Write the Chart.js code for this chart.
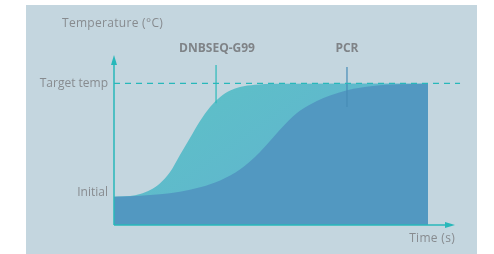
<!DOCTYPE html>
<html>
<head>
<meta charset="utf-8">
<script src="https://cdn.jsdelivr.net/npm/chart.js@4.4.0/dist/chart.umd.min.js"></script>
<style>
  html, body { margin: 0; padding: 0; background: #fff; }
  #wrap { width: 494px; height: 254px; position: relative; }
</style>
</head>
<body>
<div id="wrap"><canvas id="grafico"></canvas></div>
<script>
// time (arbitrary units) and temperature (20 = initial, 100 = target)
const tempoG99 = [0, 5.1, 8.3, 11.5, 14.6, 17.8, 21.0, 24.2, 27.4, 30.6, 33.8, 37.0, 40.1, 44.9, 51.3, 100];
const tempG99 = [20, 20.4, 21.9, 24.7, 29.3, 37.2, 49.4, 61.4, 73.4, 83.3, 90.4, 94.9, 97.4, 99.0, 99.7, 99.8];

const tempoPCR = [0, 5.1, 11.5, 17.8, 21.0, 27.4, 30.6, 33.8, 37.0, 40.1, 43.3, 46.5, 50.6, 55.1, 59.2, 64.6, 68.8, 74.2, 82.5, 91.1, 100];
const tempPCR = [20, 20.3, 21.1, 22.4, 23.4, 26.6, 28.8, 31.5, 34.9, 39.2, 44.8, 51.6, 61.6, 72.6, 80.6, 87.6, 91.4, 95.2, 98.2, 99.3, 99.7];

const tempInicial = 20;
const tempAlvo = 100;
const ticksY = [tempInicial, tempAlvo];
const nomesTicks = { 20: ['Initial', ''], 100: ['Target temp'] };

const marcadorG99 = { x: 32.5, de: 113, ate: 86 };
const marcadorPCR = { x: 74.2, de: 111.5, ate: 83.3 };

const tempoMax = 108.6;
const tempoLinhaAlvo = 110.2;

const pontos = (xs, ys) => xs.map((x, i) => ({ x, y: ys[i] }));

const TEAL = 'rgb(40,184,186)';
const CINZA = '#878b8f';
const FONTE = '"Open Sans"';

const fundo = {
    id: 'fundo',
    beforeDraw(chart) {
        const c = chart.ctx;
        c.save();
        c.fillStyle = '#fff';
        c.fillRect(0, 0, chart.width, chart.height);
        c.fillStyle = 'rgb(196,214,223)';
        c.fillRect(26, 5, 451, 249);
        c.restore();
    }
};

const eixos = {
    id: 'eixos',
    afterDatasetsDraw(chart) {
        const c = chart.ctx;
        const a = chart.chartArea;
        c.save();
        c.strokeStyle = TEAL;
        c.fillStyle = TEAL;
        c.lineWidth = 1.5;
        c.beginPath();
        c.moveTo(a.left, a.bottom);
        c.lineTo(a.left, a.top + 6);
        c.moveTo(a.left, a.bottom);
        c.lineTo(a.right - 6, a.bottom);
        c.stroke();
        c.beginPath();
        c.moveTo(a.left, a.top);
        c.lineTo(a.left - 3, a.top + 10);
        c.lineTo(a.left + 3, a.top + 10);
        c.closePath();
        c.fill();
        c.beginPath();
        c.moveTo(a.right, a.bottom);
        c.lineTo(a.right - 10, a.bottom - 3);
        c.lineTo(a.right - 10, a.bottom + 3);
        c.closePath();
        c.fill();
        c.restore();
    },
    afterDraw(chart) {
        const c = chart.ctx;
        const a = chart.chartArea;
        const x = chart.scales.x;
        c.save();
        c.fillStyle = CINZA;
        c.textBaseline = 'middle';
        c.font = '12px ' + FONTE;
        c.letterSpacing = '0.3px';
        c.textAlign = 'left';
        c.fillText('Temperature (°C)', 62, 24);
        c.textAlign = 'right';
        c.fillText('Time (s)', a.right, 239);
        c.font = 'bold 12px ' + FONTE;
        c.letterSpacing = '0px';
        c.fillStyle = '#7f8387';
        c.textAlign = 'center';
        c.fillText('DNBSEQ-G99', x.getPixelForValue(marcadorG99.x) + 1, 49);
        c.fillText('PCR', x.getPixelForValue(marcadorPCR.x), 49);
        c.restore();
    }
};

function gradienteTeal(ctx) {
    const a = ctx.chart.chartArea;
    if (!a) return 'rgb(94,192,200)';
    const g = ctx.chart.ctx.createLinearGradient(a.left, a.top, a.left + 120, a.bottom);
    g.addColorStop(0, 'rgb(92,197,196)');
    g.addColorStop(1, 'rgb(96,182,206)');
    return g;
}

new Chart(document.getElementById('grafico'), {
    type: 'line',
    data: {
        datasets: [
            {
                label: 'Target',
                data: [{ x: 0, y: tempAlvo }, { x: tempoLinhaAlvo, y: tempAlvo }],
                borderColor: TEAL,
                borderWidth: 1.3,
                borderDash: [6, 5],
                pointRadius: 0,
                fill: false,
                clip: false,
                order: 0
            },
            {
                label: 'marcador G99',
                data: [{ x: marcadorG99.x, y: marcadorG99.de }, { x: marcadorG99.x, y: marcadorG99.ate }],
                borderColor: 'rgb(44,186,186)',
                borderWidth: 1.2,
                pointRadius: 0,
                fill: false,
                clip: false,
                order: 1
            },
            {
                label: 'marcador PCR',
                data: [{ x: marcadorPCR.x, y: marcadorPCR.de }, { x: marcadorPCR.x, y: marcadorPCR.ate }],
                borderColor: 'rgb(70,140,182)',
                borderWidth: 1.2,
                pointRadius: 0,
                fill: false,
                clip: false,
                order: 1
            },
            {
                label: 'PCR',
                data: pontos(tempoPCR, tempPCR),
                borderWidth: 0,
                borderColor: 'rgba(0,0,0,0)',
                backgroundColor: 'rgb(82,152,193)',
                pointRadius: 0,
                cubicInterpolationMode: 'monotone',
                fill: 'start',
                order: 2
            },
            {
                label: 'DNBSEQ-G99',
                data: pontos(tempoG99, tempG99),
                borderWidth: 0,
                borderColor: 'rgba(0,0,0,0)',
                backgroundColor: gradienteTeal,
                pointRadius: 0,
                cubicInterpolationMode: 'monotone',
                fill: 'start',
                order: 3
            }
        ]
    },
    options: {
        responsive: true,
        maintainAspectRatio: false,
        animation: false,
        events: [],
        layout: { padding: { left: 0, top: 55, right: 39, bottom: 29 } },
        plugins: {
            legend: { display: false },
            tooltip: { enabled: false },
            title: { display: false }
        },
        scales: {
            x: {
                type: 'linear',
                min: 0,
                max: tempoMax,
                display: false
            },
            y: {
                min: 0,
                max: 120,
                grid: { display: false, drawTicks: false },
                border: { display: false },
                afterBuildTicks: (s) => { s.ticks = ticksY.map(v => ({ value: v })); },
                afterFit: (s) => { s.width = 114; },
                ticks: {
                    padding: 6,
                    color: CINZA,
                    font: { family: FONTE, size: 12, lineHeight: 0.7 },
                    callback: (v) => nomesTicks[v]
                }
            }
        }
    },
    plugins: [fundo, eixos]
});
</script>
</body>
</html>
